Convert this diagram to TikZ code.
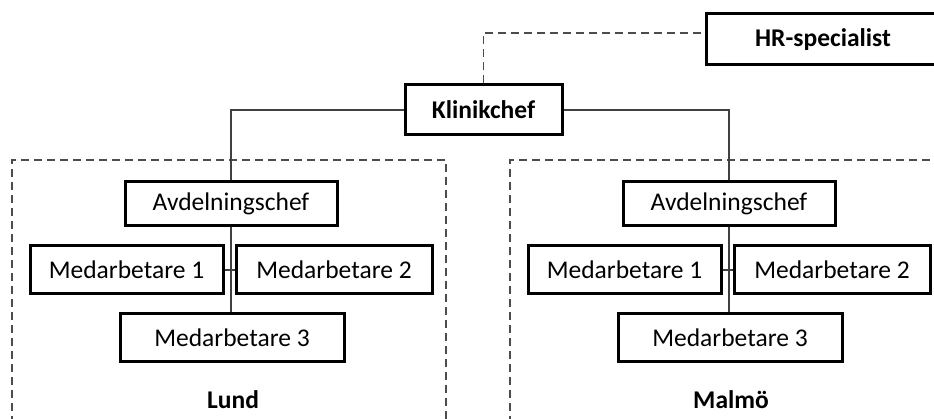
\documentclass[tikz,border=0pt]{standalone}
\usepackage{fontspec}
\setmainfont{Carlito}
\tikzset{
  box/.style={draw, line width=3pt, inner sep=0pt, minimum height=48pt,
    font=\fontsize{25.5}{30}\selectfont},
  link/.style={line width=1.4pt, draw=black!75},
  dashlink/.style={line width=1.4pt, draw=black!70, dash pattern=on 8pt off 5pt},
}
\begin{document}
\begin{tikzpicture}[x=1pt,y=-1pt]
\useasboundingbox (0,0) rectangle (934,419);
\node[box, minimum width=157pt, minimum height=50pt] (klinik) at (483.5,110) {\textbf{Klinikchef}};
\node[box, minimum width=234pt, minimum height=51pt] (hr) at (823,39.5) {\textbf{HR-specialist}};
\coordinate (hrin) at ([yshift=6.5pt]hr.west);
\draw[dashlink] (klinik.north) |- (hrin);
\foreach \s/\x/\place in {l/0/Lund, m/498/Malmö}{
  \draw[dashlink] (12+\x,450) -- (12+\x,160) -- (446+\x,160) -- (446+\x,450);
  \node[box, minimum width=212pt, minimum height=44pt] (avd\s) at (231+\x,204) {Avdelningschef};
  \node[box, minimum width=193pt] (med\s1) at (126.5+\x,270) {Medarbetare 1};
  \node[box, minimum width=196pt] (med\s2) at (334+\x,270) {Medarbetare 2};
  \node[box, minimum width=224pt] (med\s3) at (232+\x,338) {Medarbetare 3};
  \node[font=\fontsize{25.5}{30}\selectfont\bfseries] (ort\s) at (233+\x,400) {\place};
  \draw[link] (avd\s.south) -- (avd\s.south |- med\s3.north);
  \draw[link] (med\s1.east) -- (med\s2.west);
}
\draw[link] (klinik.west) -| (avdl.north);
\draw[link] (klinik.east) -| (avdm.north);
\end{tikzpicture}
\end{document}
